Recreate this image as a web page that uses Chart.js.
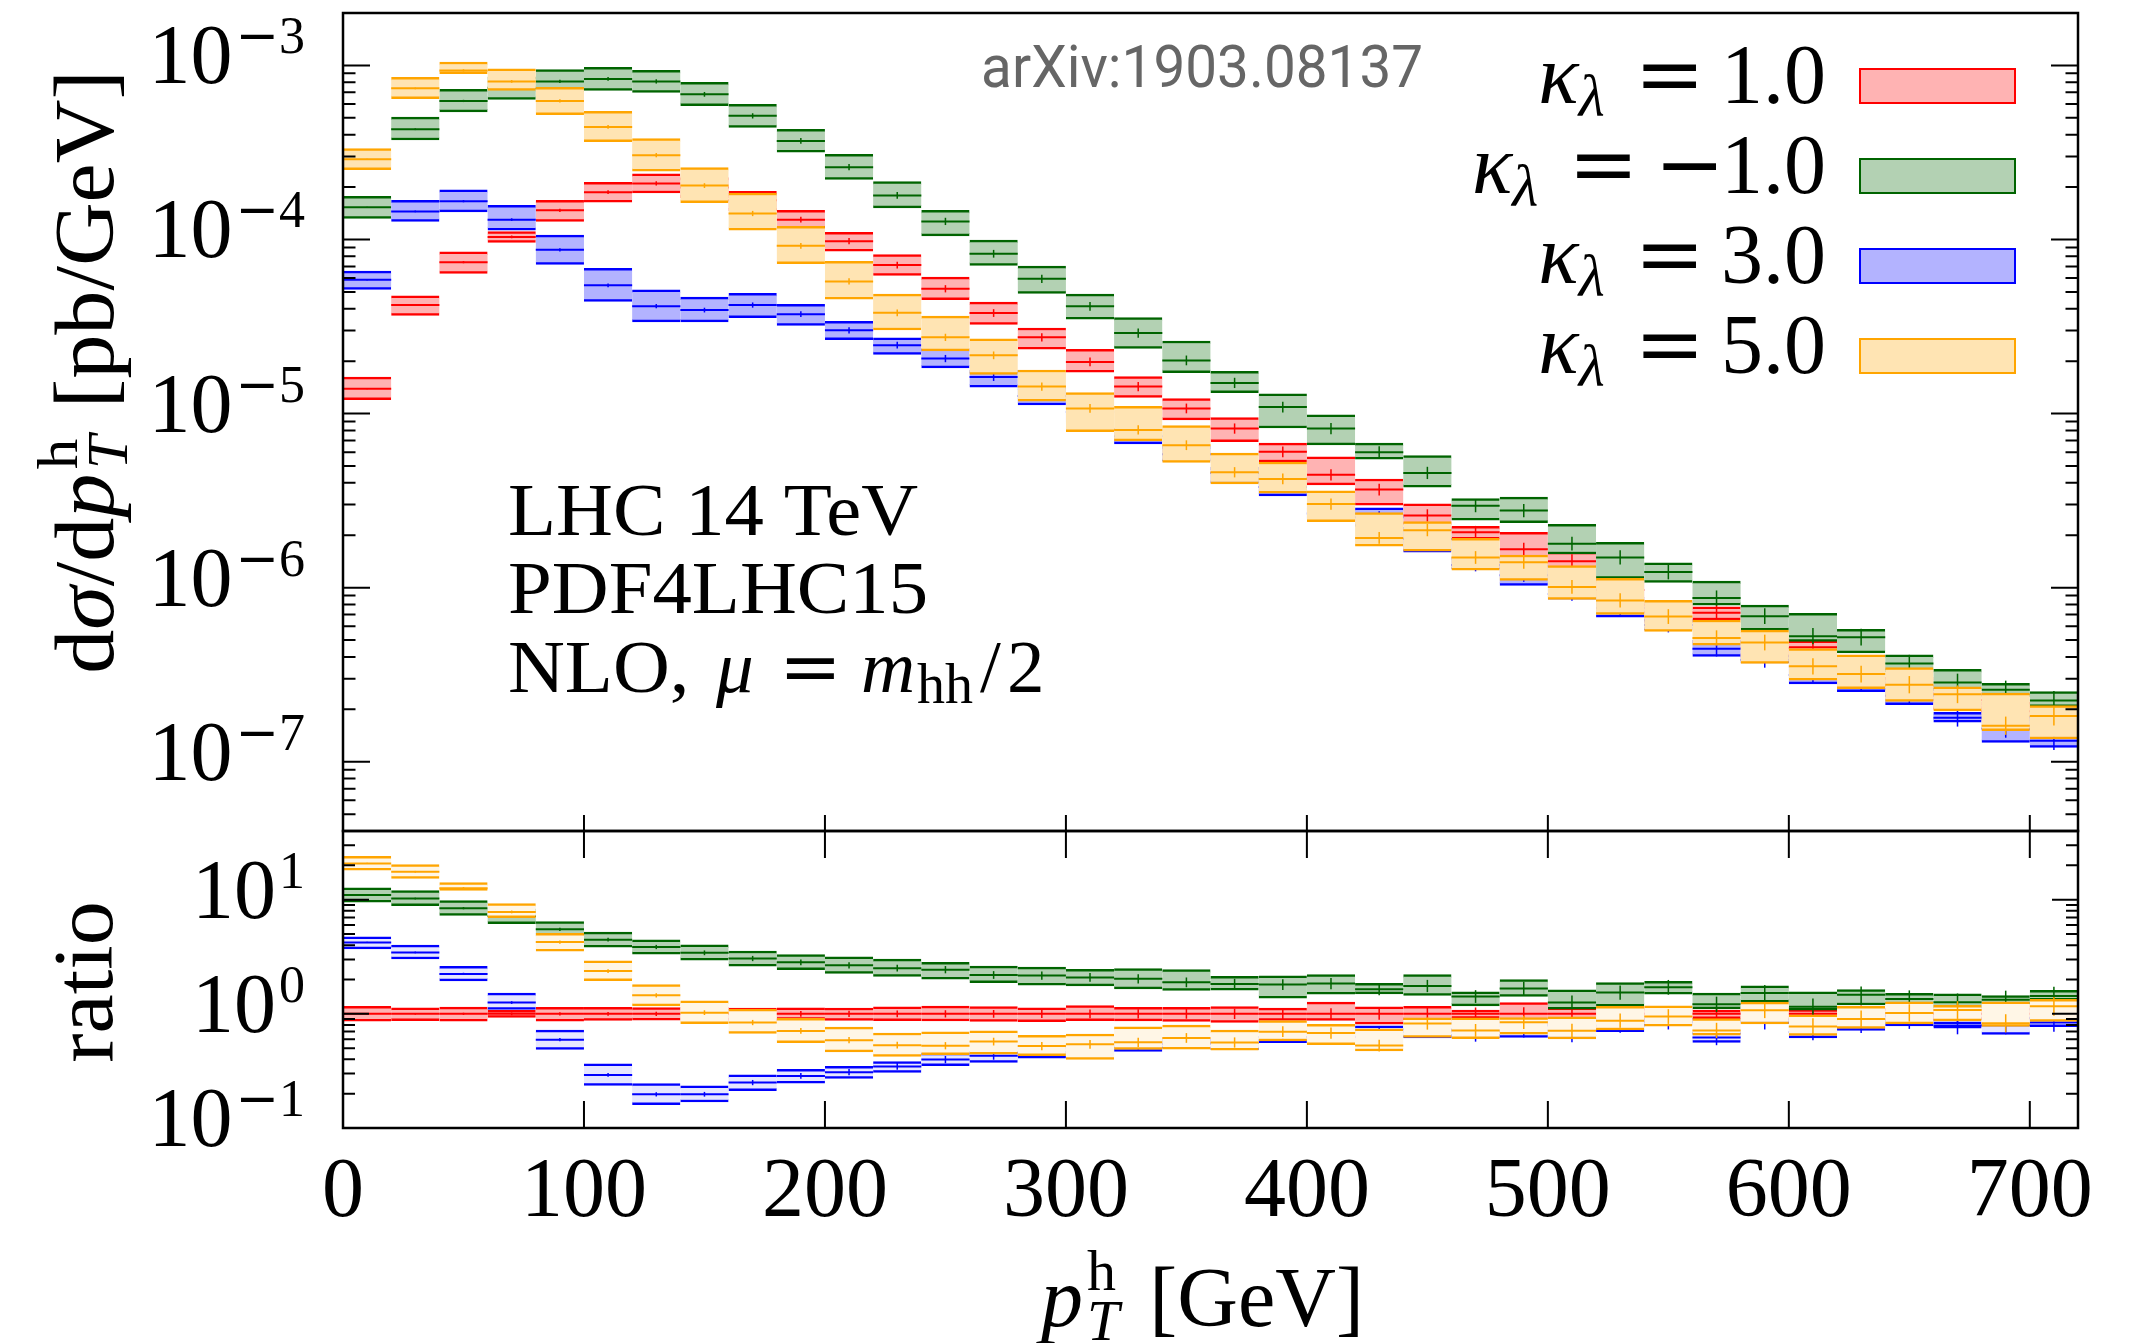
<!DOCTYPE html>
<html>
<head>
<meta charset="utf-8">
<script src="https://cdn.jsdelivr.net/npm/chart.js@4.4.1/dist/chart.umd.min.js"></script>
<style>
    html, body { margin: 0; padding: 0; background: #fff; }
    #wrap { position: relative; width: 2137px; height: 1343px; }
    #wrap canvas { position: absolute; left: 0; top: 0; }
</style>
</head>
<body>
<div id="wrap">
    <canvas id="main" width="2137" height="1343"></canvas>
    <canvas id="ratio" width="2137" height="1343"></canvas>
</div>
<script>
// pT bins (lower edges, GeV), 20 GeV wide
const ptBinLow = [0, 20, 40, 60, 80, 100, 120, 140, 160, 180, 200, 220,
    240, 260, 280, 300, 320, 340, 360, 380, 400, 420, 440, 460,
    480, 500, 520, 540, 560, 580, 600, 620, 640, 660, 680, 700];
const binWidth = 20;
const xTickValues = [0, 100, 200, 300, 400, 500, 600, 700];
const kappaValues = [1.0, -1.0, 3.0, 5.0];

// dsigma/dpT [pb/GeV], central value and scale band, kappa = 1
const xsecK1 = [1.39e-5, 4.20e-5, 7.41e-5, 1.035e-4, 1.47e-4, 1.87e-4, 2.10e-4, 1.99e-4, 1.68e-4, 1.30e-4, 9.77e-5, 7.13e-5,
    5.21e-5, 3.78e-5, 2.74e-5, 1.98e-5, 1.43e-5, 1.07e-5, 8.20e-6, 6.03e-6, 4.45e-6, 3.66e-6, 2.60e-6, 2.08e-6,
    1.66e-6, 1.42e-6, 9.7e-7, 7.2e-7, 7.18e-7, 4.5e-7, 4.55e-7, 3.53e-7, 2.72e-7, 2.26e-7, 1.95e-7, 1.57e-7];
const xsecK1Up = [1.62e-5, 4.75e-5, 8.49e-5, 1.11e-4, 1.68e-4, 2.13e-4, 2.38e-4, 2.27e-4, 1.89e-4, 1.47e-4, 1.10e-4, 8.20e-5,
    6.08e-5, 4.37e-5, 3.10e-5, 2.34e-5, 1.63e-5, 1.22e-5, 9.49e-6, 6.76e-6, 5.64e-6, 4.21e-6, 3.03e-6, 2.25e-6,
    2.08e-6, 1.60e-6, 1.10e-6, 8.1e-7, 7.76e-7, 5.1e-7, 4.95e-7, 3.95e-7, 3.05e-7, 2.5e-7, 2.2e-7, 1.77e-7];
const xsecK1Down = [1.20e-5, 3.66e-5, 6.38e-5, 9.61e-5, 1.27e-4, 1.64e-4, 1.85e-4, 1.74e-4, 1.46e-4, 1.16e-4, 8.57e-5, 6.21e-5,
    4.51e-5, 3.25e-5, 2.34e-5, 1.73e-5, 1.24e-5, 9.19e-6, 6.90e-6, 5.27e-6, 3.89e-6, 2.98e-6, 2.29e-6, 1.90e-6,
    1.36e-6, 1.24e-6, 8.5e-7, 6.3e-7, 6.52e-7, 4.0e-7, 4.0e-7, 3.1e-7, 2.4e-7, 2.0e-7, 1.72e-7, 1.40e-7];

// kappa = -1
const xsecKm1 = [1.53e-4, 4.30e-4, 6.25e-4, 7.45e-4, 8.09e-4, 8.36e-4, 8.09e-4, 6.82e-4, 5.13e-4, 3.68e-4, 2.60e-4, 1.79e-4,
    1.27e-4, 8.28e-5, 5.94e-5, 4.13e-5, 2.90e-5, 2.02e-5, 1.50e-5, 1.09e-5, 8.20e-6, 6.00e-6, 4.56e-6, 2.95e-6,
    2.77e-6, 1.79e-6, 1.49e-6, 1.23e-6, 8.71e-7, 6.86e-7, 5.26e-7, 5.19e-7, 3.67e-7, 2.85e-7, 2.59e-7, 2.25e-7];
const xsecKm1Up = [1.77e-4, 5.04e-4, 7.28e-4, 8.61e-4, 9.45e-4, 9.74e-4, 9.36e-4, 7.99e-4, 5.97e-4, 4.30e-4, 3.08e-4, 2.15e-4,
    1.47e-4, 9.91e-5, 7.03e-5, 4.85e-5, 3.56e-5, 2.61e-5, 1.75e-5, 1.30e-5, 9.82e-6, 6.76e-6, 5.74e-6, 3.25e-6,
    3.31e-6, 2.31e-6, 1.82e-6, 1.39e-6, 1.09e-6, 7.94e-7, 7.11e-7, 5.77e-7, 4.11e-7, 3.39e-7, 2.82e-7, 2.53e-7];
const xsecKm1Down = [1.32e-4, 3.73e-4, 5.41e-4, 6.38e-4, 7.06e-4, 7.19e-4, 7.0e-4, 5.87e-4, 4.40e-4, 3.17e-4, 2.21e-4, 1.52e-4,
    1.05e-4, 7.10e-5, 4.90e-5, 3.48e-5, 2.37e-5, 1.72e-5, 1.32e-5, 8.26e-6, 6.61e-6, 5.47e-6, 3.78e-6, 2.44e-6,
    2.36e-6, 1.56e-6, 1.13e-6, 1.07e-6, 7.94e-7, 5.70e-7, 4.91e-7, 4.22e-7, 3.28e-7, 2.55e-7, 2.36e-7, 2.07e-7];

// kappa = 3
const xsecK3 = [5.87e-5, 1.45e-4, 1.66e-4, 1.30e-4, 8.73e-5, 5.45e-5, 4.14e-5, 3.93e-5, 4.20e-5, 3.72e-5, 3.01e-5, 2.47e-5,
    2.07e-5, 1.62e-5, 1.26e-5, 1.02e-5, 7.41e-6, 5.83e-6, 4.55e-6, 3.78e-6, 2.67e-6, 2.54e-6, 1.90e-6, 1.35e-6,
    1.18e-6, 9.2e-7, 7.64e-7, 6.1e-7, 4.45e-7, 3.85e-7, 3.15e-7, 2.84e-7, 2.39e-7, 1.79e-7, 1.55e-7, 1.32e-7];
const xsecK3Up = [6.58e-5, 1.68e-4, 1.93e-4, 1.57e-4, 1.06e-4, 6.82e-5, 5.14e-5, 4.67e-5, 4.90e-5, 4.24e-5, 3.39e-5, 2.72e-5,
    2.36e-5, 1.77e-5, 1.42e-5, 1.24e-5, 8.24e-6, 6.49e-6, 4.92e-6, 4.31e-6, 2.95e-6, 2.87e-6, 2.23e-6, 1.50e-6,
    1.35e-6, 1.0e-6, 8.83e-7, 6.6e-7, 5.0e-7, 4.1e-7, 3.6e-7, 3.19e-7, 2.65e-7, 1.92e-7, 1.83e-7, 1.49e-7];
const xsecK3Down = [5.16e-5, 1.27e-4, 1.44e-4, 1.13e-4, 7.19e-5, 4.41e-5, 3.36e-5, 3.36e-5, 3.56e-5, 3.21e-5, 2.66e-5, 2.19e-5,
    1.83e-5, 1.42e-5, 1.12e-5, 8.65e-6, 6.70e-6, 5.32e-6, 3.98e-6, 3.37e-6, 2.45e-6, 2.25e-6, 1.60e-6, 1.28e-6,
    1.03e-6, 8.6e-7, 6.76e-7, 5.7e-7, 4.03e-7, 3.7e-7, 2.80e-7, 2.53e-7, 2.13e-7, 1.69e-7, 1.29e-7, 1.21e-7];

// kappa = 5
const xsecK5 = [2.89e-4, 7.38e-4, 9.36e-4, 8.09e-4, 6.25e-4, 4.43e-4, 3.05e-4, 2.04e-4, 1.41e-4, 9.2e-5, 5.74e-5, 3.79e-5,
    2.74e-5, 2.16e-5, 1.43e-5, 1.07e-5, 8.05e-6, 6.58e-6, 4.60e-6, 4.21e-6, 3.02e-6, 1.93e-6, 2.14e-6, 1.49e-6,
    1.40e-6, 1.01e-6, 8.45e-7, 6.82e-7, 5.14e-7, 4.84e-7, 3.53e-7, 3.19e-7, 2.77e-7, 2.44e-7, 1.61e-7, 1.83e-7];
const xsecK5Up = [3.33e-4, 8.53e-4, 1.046e-3, 9.57e-4, 7.48e-4, 5.45e-4, 3.80e-4, 2.59e-4, 1.85e-4, 1.19e-4, 7.48e-5, 4.85e-5,
    3.63e-5, 2.69e-5, 1.78e-5, 1.32e-5, 1.10e-5, 8.53e-6, 5.92e-6, 5.27e-6, 3.60e-6, 2.70e-6, 2.40e-6, 1.92e-6,
    1.54e-6, 1.34e-6, 1.13e-6, 8.45e-7, 6.52e-7, 5.70e-7, 4.46e-7, 4.11e-7, 3.47e-7, 2.69e-7, 2.48e-7, 2.10e-7];
const xsecK5Down = [2.52e-4, 6.44e-4, 8.96e-4, 7.19e-4, 5.21e-4, 3.65e-4, 2.47e-4, 1.63e-4, 1.13e-4, 7.26e-5, 4.54e-5, 3.02e-5,
    2.29e-5, 1.68e-5, 1.18e-5, 7.88e-6, 6.97e-6, 5.24e-6, 3.94e-6, 3.49e-6, 2.39e-6, 1.73e-6, 1.62e-6, 1.26e-6,
    1.10e-6, 8.55e-7, 7.01e-7, 5.61e-7, 4.67e-7, 3.67e-7, 2.94e-7, 2.63e-7, 2.22e-7, 1.96e-7, 1.51e-7, 1.35e-7];

const series = [
    { mid: xsecK1, up: xsecK1Up, down: xsecK1Down, line: '#ff0000', fill: '#ffb3b3', ratioFill: '#ffb3b3' },
    { mid: xsecKm1, up: xsecKm1Up, down: xsecKm1Down, line: '#006400', fill: '#b3d1b3', ratioFill: '#b3d1b3' },
    { mid: xsecK3, up: xsecK3Up, down: xsecK3Down, line: '#0000ff', fill: '#b3b3ff', ratioFill: '#e6e6ff' },
    { mid: xsecK5, up: xsecK5Up, down: xsecK5Down, line: '#ffa500', fill: '#ffe4b3', ratioFill: '#fff6e6' }
];

const fontSerif = '"Liberation Serif", "DejaVu Serif", serif';
const fontMath = '"DejaVu Serif", serif';
const serif = (size, style) => (style ? style + ' ' : '') + size + 'px ' + fontSerif;

// draws a run of text pieces (for sub/superscripts), returns total width
function drawParts(ctx, parts, x, y, align) {
    let total = 0;
    parts.forEach(p => {
        ctx.font = p.font;
        p.w = ctx.measureText(p.t).width;
        total += (p.gap || 0) + (p.adv === false ? 0 : p.w);
    });
    let cx = align === 'right' ? x - total : align === 'center' ? x - total / 2 : x;
    ctx.textAlign = 'left';
    ctx.textBaseline = 'alphabetic';
    parts.forEach(p => {
        cx += p.gap || 0;
        ctx.font = p.font;
        ctx.fillText(p.t, cx, y + (p.dy || 0));
        if (p.adv !== false) cx += p.w;
    });
    return total;
}

function powerLabel(ctx, e, right, base) {
    const parts = [{ t: '10', font: serif(84) }];
    if (e < 0) parts.push({ t: '\u2212', font: '52px ' + fontMath, dy: -30, gap: 3 });
    parts.push({ t: String(Math.abs(e)), font: serif(52), dy: -30, gap: e < 0 ? 0 : 3 });
    drawParts(ctx, parts, right, base, 'right');
}

function halfBin(chart) {
    const xs = chart.scales.x;
    return (xs.getPixelForValue(binWidth) - xs.getPixelForValue(0)) / 2;
}

function buildDatasets(ratio) {
    const sets = [];
    series.forEach((s, k) => {
        const norm = i => (ratio ? xsecK1[i] : 1);
        const order = (3 - k) * 3;
        sets.push({
            type: 'bar',
            data: ptBinLow.map((lo, i) => ({ x: lo + binWidth / 2, y: [s.down[i] / norm(i), s.up[i] / norm(i)] })),
            backgroundColor: ratio ? s.ratioFill : s.fill,
            borderColor: s.line,
            borderWidth: { top: 2.5, bottom: 2.5, left: 0, right: 0 },
            borderSkipped: false,
            grouped: false,
            barPercentage: 1,
            categoryPercentage: 1,
            order: order + 2
        });
        const centre = ptBinLow.map((lo, i) => ({ x: lo + binWidth / 2, y: s.mid[i] / norm(i) }));
        sets.push({
            type: 'line',
            data: centre,
            showLine: false,
            pointStyle: 'line',
            pointRadius: ctx => halfBin(ctx.chart),
            pointBorderWidth: 2,
            pointBorderColor: s.line,
            order: order + 1
        });
        sets.push({
            type: 'line',
            data: centre,
            showLine: false,
            pointStyle: 'line',
            pointRotation: 90,
            pointRadius: ctx => 0.5 + (ctx.raw ? ctx.raw.x : 0) / 80,
            pointBorderWidth: 1.5,
            pointBorderColor: s.line,
            order: order
        });
    });
    return sets;
}

function drawMainTexts(ctx) {
    ctx.fillStyle = '#000';
    // y axis title
    ctx.save();
    ctx.translate(113, 372);
    ctx.rotate(-Math.PI / 2);
    ctx.scale(1.05, 1);
    drawParts(ctx, [
        { t: 'd', font: serif(84) },
        { t: 'σ', font: serif(84, 'italic') },
        { t: '/d', font: serif(84) },
        { t: 'p', font: serif(84, 'italic') },
        { t: 'h', font: serif(58), dy: -36, adv: false, gap: 4 },
        { t: 'T', font: serif(58, 'italic'), dy: 14 },
        { t: '[pb/GeV]', font: serif(84), gap: 26 }
    ], 0, 0, 'center');
    ctx.restore();

    // process info
    ctx.save();
    ctx.font = serif(75);
    ctx.translate(508, 0);
    ctx.scale(1.05, 1);
    ctx.fillText('LHC 14 TeV', 0, 535);
    ctx.fillText('PDF4LHC15', 0, 613);
    ctx.fillText('NLO,', 0, 692);
    ctx.restore();
    ctx.font = serif(75, 'italic');
    ctx.fillText('μ', 716, 692);
    ctx.font = '75px ' + fontMath;
    ctx.fillText('=', 779, 692);
    ctx.font = serif(75, 'italic');
    ctx.fillText('m', 861, 692);
    ctx.font = serif(56);
    ctx.fillText('hh', 917, 703);
    ctx.font = serif(75);
    ctx.fillText('/', 980, 692);
    ctx.fillText('2', 1007, 692);

    // arXiv tag
    const tag = 'arXiv:1903.08137';
    ctx.save();
    ctx.font = '59px Roboto';
    ctx.fillStyle = '#666666';
    const m = ctx.measureText(tag);
    const ink = m.actualBoundingBoxLeft + m.actualBoundingBoxRight;
    ctx.translate(984, 87);
    ctx.scale(437 / ink, 1);
    ctx.fillText(tag, m.actualBoundingBoxLeft, 0);
    ctx.restore();

    // legend
    kappaValues.forEach((k, i) => {
        const base = 103 + i * 90;
        const parts = [
            { t: 'κ', font: serif(84, 'italic') },
            { t: 'λ', font: serif(60, 'italic'), dy: 13 },
            { t: '=', font: '84px ' + fontMath, gap: 30 }
        ];
        if (k < 0) parts.push({ t: '\u2212', font: '84px ' + fontMath, gap: 16 });
        parts.push({ t: Math.abs(k).toFixed(1), font: serif(84), gap: k < 0 ? -4 : 16 });
        ctx.fillStyle = '#000';
        drawParts(ctx, parts, 1826, base, 'right');
        ctx.fillStyle = series[i].fill;
        ctx.fillRect(1860, base - 34, 155, 34);
        ctx.strokeStyle = series[i].line;
        ctx.lineWidth = 2;
        ctx.strokeRect(1860, base - 34, 155, 34);
    });
}

function drawRatioTexts(ctx, chart) {
    ctx.fillStyle = '#000';
    ctx.save();
    ctx.translate(112, 982);
    ctx.rotate(-Math.PI / 2);
    ctx.scale(1.05, 1);
    drawParts(ctx, [{ t: 'ratio', font: serif(84) }], 0, 0, 'center');
    ctx.restore();

    const xs = chart.scales.x;
    const a = chart.chartArea;
    ctx.font = serif(84);
    ctx.textAlign = 'center';
    xTickValues.forEach(v => ctx.fillText(String(v), xs.getPixelForValue(v), a.bottom + 88));

    drawParts(ctx, [
        { t: 'p', font: serif(84, 'italic') },
        { t: 'h', font: serif(58), dy: -36, adv: false, gap: 4 },
        { t: 'T', font: serif(58, 'italic'), dy: 14 },
        { t: '[GeV]', font: serif(84), gap: 30 }
    ], (a.left + a.right) / 2 - 8, a.bottom + 198, 'center');
}

// frame, inward ticks and labels
const panelPlugin = {
    id: 'panel',
    afterDatasetsDraw(chart, args, opts) {
        const { ctx, chartArea: a } = chart;
        const xs = chart.scales.x, ys = chart.scales.y;
        ctx.save();
        ctx.strokeStyle = '#000';
        ctx.fillStyle = '#000';
        ctx.lineWidth = 2;
        const e0 = Math.floor(Math.log10(ys.min)), e1 = Math.ceil(Math.log10(ys.max));
        for (let e = e0; e <= e1; e++) {
            for (let m = 1; m <= 9; m++) {
                const v = m * Math.pow(10, e);
                if (v < ys.min * 0.999 || v > ys.max * 1.001) continue;
                const py = ys.getPixelForValue(v);
                const len = m === 1 ? opts.major : opts.minor;
                ctx.beginPath();
                ctx.moveTo(a.left, py); ctx.lineTo(a.left + len, py);
                ctx.moveTo(a.right, py); ctx.lineTo(a.right - len, py);
                ctx.stroke();
                if (m === 1) powerLabel(ctx, e, 305, py + 18);
            }
        }
        xTickValues.forEach(v => {
            const px = xs.getPixelForValue(v);
            ctx.beginPath();
            if (opts.xBottom) { ctx.moveTo(px, a.bottom); ctx.lineTo(px, a.bottom - opts.xBottom); }
            if (opts.xTop) { ctx.moveTo(px, a.top); ctx.lineTo(px, a.top + opts.xTop); }
            ctx.stroke();
        });
        ctx.lineWidth = 2.5;
        ctx.strokeRect(a.left, a.top, a.right - a.left, a.bottom - a.top);
        if (opts.kind === 'main') drawMainTexts(ctx);
        else drawRatioTexts(ctx, chart);
        ctx.restore();
    }
};

function makeChart(id, ratio) {
    return new Chart(document.getElementById(id), {
        type: 'bar',
        data: { datasets: buildDatasets(ratio) },
        options: {
            responsive: false,
            animation: false,
            events: [],
            layout: {
                padding: ratio
                    ? { left: 343, right: 59, top: 831, bottom: 215 }
                    : { left: 343, right: 59, top: 13, bottom: 512 }
            },
            scales: {
                x: { type: 'linear', min: 0, max: 720, offset: false, display: false },
                y: ratio
                    ? { type: 'logarithmic', min: 0.1, max: 40, display: false }
                    : { type: 'logarithmic', min: 4e-8, max: 2e-3, display: false }
            },
            plugins: {
                legend: { display: false },
                tooltip: { enabled: false },
                panel: ratio
                    ? { kind: 'ratio', major: 26, minor: 12, xTop: 27, xBottom: 27 }
                    : { kind: 'main', major: 27, minor: 12.5, xTop: 0, xBottom: 16 }
            }
        },
        plugins: [panelPlugin]
    });
}

makeChart('main', false);
makeChart('ratio', true);
</script>
</body>
</html>
